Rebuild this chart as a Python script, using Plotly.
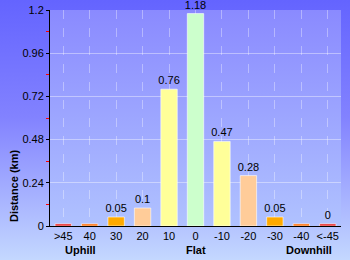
import base64
import plotly.graph_objects as go

categories = ["&gt;45", "40", "30", "20", "10", "0", "-10", "-20", "-30", "-40", "&lt;-45"]
distances = [0.012, 0.012, 0.05, 0.1, 0.76, 1.18, 0.47, 0.28, 0.05, 0.012, 0.012]
labels = ["", "", "0.05", "0.1", "0.76", "1.18", "0.47", "0.28", "0.05", "", "0"]
colors = ["#e82020", "#ff6a00", "#ffaa00", "#ffcc99", "#ffff99", "#ccffcc",
          "#ffff99", "#ffcc99", "#ffaa00", "#ff6a00", "#e82020"]
y_ticks = [0, 0.24, 0.48, 0.72, 0.96, 1.2]
y_ticktext = ["0", "0.24", "0.48", "0.72", "0.96", "1.2"]
y_minor = [0.12, 0.36, 0.6, 0.84, 1.08]


def grad(stops):
    s = "".join(f'<stop offset="{o}" stop-color="{c}"/>' for o, c in stops)
    svg = ('<svg xmlns="http://www.w3.org/2000/svg" width="100" height="100" preserveAspectRatio="none">'
           f'<defs><linearGradient id="g" x1="0" y1="0" x2="0" y2="1">{s}</linearGradient></defs>'
           '<rect width="100" height="100" fill="url(#g)"/></svg>')
    return "data:image/svg+xml;base64," + base64.b64encode(svg.encode()).decode()


W, H = 350, 260
L, R, T, B = 50, 9, 10, 34
pw, ph = W - L - R, H - T - B


def px(x):
    return (x - L) / pw


def py(y):
    return (H - B - y) / ph


fig = go.Figure(go.Bar(
    x=categories, y=distances, width=0.62,
    marker=dict(color=colors, line=dict(color="rgba(255,255,255,0.6)", width=1)),
    text=labels, textposition="outside", cliponaxis=False, constraintext="none",
    textfont=dict(family="Liberation Sans, Arial, sans-serif", size=11, color="black"),
    hoverinfo="x+y",
))

fig.update_layout(
    width=W, height=H, margin=dict(l=L, r=R, t=T, b=B, autoexpand=False),
    paper_bgcolor="rgba(0,0,0,0)", plot_bgcolor="rgba(0,0,0,0)",
    font=dict(family="Liberation Sans, Arial, sans-serif", size=11, color="black"),
    showlegend=False,
    images=[
        dict(source=grad([(0, "#6464ff"), (0.45, "#8282ff"), (1, "#c4d8ff")]),
             xref="paper", yref="paper", x=-L / pw, y=1 + T / ph, sizex=W / pw, sizey=H / ph,
             sizing="stretch", layer="below", xanchor="left", yanchor="top"),
        dict(source=grad([(0, "#8a8aff"), (1, "#b0c2ff")]),
             xref="paper", yref="paper", x=0, y=1, sizex=1, sizey=1,
             sizing="stretch", layer="below", xanchor="left", yanchor="top"),
    ],
    xaxis=dict(
        showline=True, linecolor="black", linewidth=1, automargin=False,
        showgrid=True, gridcolor="rgba(255,255,255,0.35)", griddash="dash",
        ticks="", tickfont=dict(size=11), ticklabelstandoff=0,
        fixedrange=True,
    ),
    yaxis=dict(
        range=[0, 1.2], tickvals=y_ticks, ticktext=y_ticktext, automargin=False,
        showline=True, linecolor="black", linewidth=1,
        ticks="outside", ticklen=3, tickcolor="black",
        showgrid=True, gridcolor="rgba(255,255,255,0.4)",
        zeroline=False, tickfont=dict(size=11),
        minor=dict(tickvals=y_minor, ticks="outside", ticklen=3, tickcolor="red", showgrid=False),
        fixedrange=True,
    ),
    annotations=[
        dict(text="<b>Uphill</b>", x=px(80), y=py(250), xref="paper", yref="paper",
             xanchor="center", yanchor="middle", showarrow=False, font=dict(size=11)),
        dict(text="<b>Flat</b>", x=px(196), y=py(250), xref="paper", yref="paper",
             xanchor="center", yanchor="middle", showarrow=False, font=dict(size=11)),
        dict(text="<b>Downhill</b>", x=px(309), y=py(250), xref="paper", yref="paper",
             xanchor="center", yanchor="middle", showarrow=False, font=dict(size=11)),
        dict(text="<b>Distance (km)</b>", x=px(14), y=py(186), xref="paper", yref="paper",
             xanchor="center", yanchor="middle", showarrow=False, textangle=-90,
             font=dict(size=11)),
    ],
)

fig.write_html("out.html")
